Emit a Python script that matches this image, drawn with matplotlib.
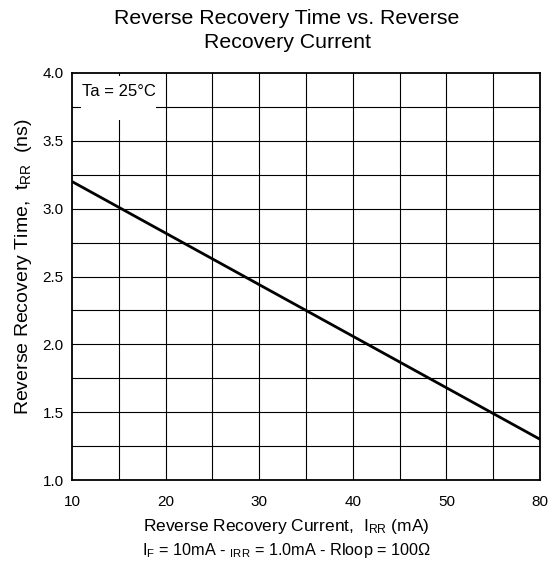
import matplotlib
matplotlib.use("Agg")
import matplotlib.pyplot as plt
from matplotlib.patches import Rectangle

plt.rcParams['font.family'] = ['Liberation Sans', 'DejaVu Sans']
plt.rcParams['mathtext.fontset'] = 'custom'
plt.rcParams['mathtext.rm'] = 'Liberation Sans'
plt.rcParams['mathtext.it'] = 'Liberation Sans'
plt.rcParams['mathtext.bf'] = 'Liberation Sans'

# Data (x in axis positions 10..60; labels as printed on the chart)
current = [10, 60]
trr = [3.2, 1.3]
xtick_pos = [10, 20, 30, 40, 50, 60]
xtick_labels = ["10", "20", "30", "40", "50", "80"]
ytick_pos = [1.0, 1.5, 2.0, 2.5, 3.0, 3.5, 4.0]
ytick_labels = ["1.0", "1.5", "2.0", "2.5", "3.0", "3.5", "4.0"]

W, H = 555, 563
fig = plt.figure(figsize=(W / 100, H / 100), dpi=100)
ax = fig.add_axes([72 / W, 1 - 480 / H, (540 - 72) / W, (480 - 73) / H])

ax.set_xlim(10, 60)
ax.set_ylim(1.0, 4.0)

# grid
for x in range(15, 60, 5):
    ax.axvline(x, color='black', lw=0.8, zorder=1)
for i in range(1, 12):
    ax.axhline(1.0 + 0.25 * i, color='black', lw=0.8, zorder=1)

ax.plot(current, trr, color='black', lw=2.0, zorder=3, solid_capstyle='butt')

ax.set_xticks(xtick_pos)
ax.set_xticklabels(xtick_labels, fontsize=11)
ax.set_yticks(ytick_pos)
ax.set_yticklabels(ytick_labels, fontsize=11)
ax.tick_params(length=0)
ax.tick_params(axis='y', pad=6)
ax.tick_params(axis='x', pad=11)
for s in ax.spines.values():
    s.set_linewidth(1.3)
    s.set_zorder(4)

# Ta box
ax.add_patch(Rectangle((11.0, 3.65), 8.0, 0.33, transform=ax.transData,
                       facecolor='white', edgecolor='none', zorder=2))
ax.text(15.0, 3.86, "Ta = 25°C", ha='center', va='center', fontsize=12, zorder=5)

# titles and labels
fig.text(287 / W, 1 - 19 / H, "Reverse Recovery Time vs. Reverse", ha='center', va='center', fontsize=15.3)
fig.text(287 / W, 1 - 43 / H, "Recovery Current", ha='center', va='center', fontsize=15.3)
fig.text(286 / W, 1 - 527 / H, r"Reverse Recovery Current,  I$_{\mathrm{RR}}$ (mA)", ha='center', va='center', fontsize=12.5)
fig.text(287 / W, 1 - 551 / H, r"I$_{\mathrm{F}}$ = 10mA - $_{\mathrm{IRR}}$ = 1.0mA - Rloop = 100Ω", ha='center', va='center', fontsize=11.7)
fig.text(24 / W, 1 - 267 / H, r"Reverse Recovery Time,  t$_{\mathrm{RR}}$  (ns)", ha='center', va='center', rotation=90, fontsize=14)

fig.savefig("out.png", dpi=100)
